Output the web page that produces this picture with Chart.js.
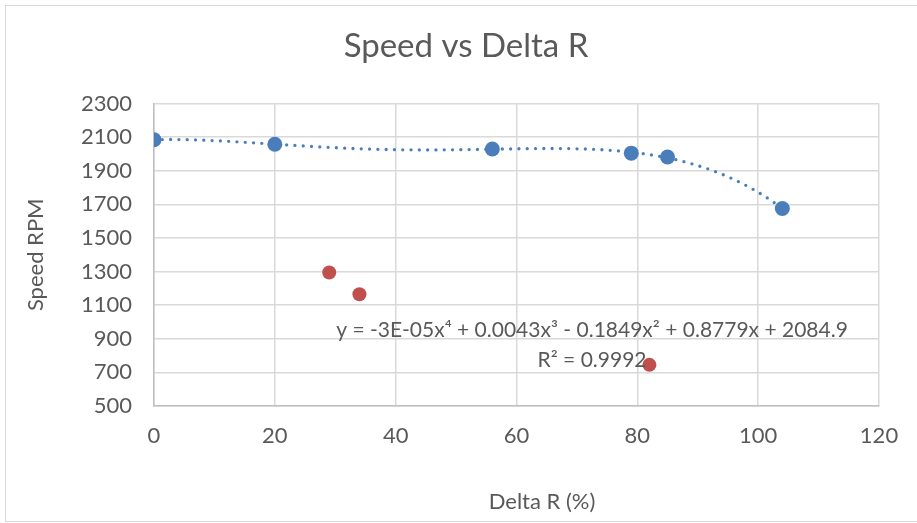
<!DOCTYPE html>
<html>
<head>
<meta charset="utf-8">
<script src="https://cdn.jsdelivr.net/npm/chart.js@4.4.1/dist/chart.umd.min.js"></script>
<style>
  html, body { margin: 0; padding: 0; background: #fff; }
  #wrap { width: 917px; height: 523px; position: relative; }
</style>
</head>
<body>
<div id="wrap"><canvas id="c" width="917" height="523"></canvas></div>
<script>
// Measured runs: speed against resistance change
const deltaR = [0, 20, 56, 79, 85, 104];
const speedRpm = [2085, 2058, 2030, 2005, 1982, 1676];

// Runs left out of the trend fit
const outlierDeltaR = [29, 34, 82];
const outlierRpm = [1295, 1165, 745];

const xTicks = [0, 20, 40, 60, 80, 100, 120];
const yTicks = [500, 700, 900, 1100, 1300, 1500, 1700, 1900, 2100, 2300];

const chartTitle = 'Speed vs Delta R';
const xTitle = 'Delta R (%)';
const yTitle = 'Speed RPM';
const trendEquation = 'y = -3E-05x\u2074 + 0.0043x\u00B3 - 0.1849x\u00B2 + 0.8779x + 2084.9';
const trendR2 = 'R\u00B2 = 0.9992';

const FONT = 'Lato, "Open Sans", "Liberation Sans", sans-serif';
const TEXT = '#595959';
const BLUE = '#4a7ebb';
const RED = '#c0504d';

// Least-squares polynomial (degree 4) through the measured runs
function polyFit(xs, ys, deg) {
  const s = 100; // scale x for conditioning
  const n = deg + 1;
  const A = Array.from({ length: n }, () => new Array(n + 1).fill(0));
  xs.forEach((xv, k) => {
    const t = xv / s;
    for (let i = 0; i < n; i++) {
      for (let j = 0; j < n; j++) A[i][j] += Math.pow(t, i + j);
      A[i][n] += ys[k] * Math.pow(t, i);
    }
  });
  for (let c = 0; c < n; c++) {
    let p = c;
    for (let r = c + 1; r < n; r++) if (Math.abs(A[r][c]) > Math.abs(A[p][c])) p = r;
    [A[c], A[p]] = [A[p], A[c]];
    for (let r = 0; r < n; r++) {
      if (r === c) continue;
      const f = A[r][c] / A[c][c];
      for (let k = c; k <= n; k++) A[r][k] -= f * A[c][k];
    }
  }
  const coef = A.map((row, i) => row[n] / row[i]);
  return xv => coef.reduce((acc, cf, i) => acc + cf * Math.pow(xv / s, i), 0);
}

const trend = polyFit(deltaR, speedRpm, 4);
const trendPoints = [];
for (let xv = deltaR[0]; xv <= deltaR[deltaR.length - 1] + 1e-9; xv += 0.5) {
  trendPoints.push({ x: xv, y: trend(xv) });
}

const chartDecor = {
  id: 'chartDecor',
  beforeDraw(chart) {
    const ctx = chart.ctx;
    ctx.save();
    ctx.fillStyle = '#ffffff';
    ctx.fillRect(0, 0, chart.width, chart.height);
    ctx.strokeStyle = '#d9d9d9';
    ctx.lineWidth = 1;
    ctx.strokeRect(5.5, 5.5, chart.width + 20, 516);
    ctx.restore();
  },
  afterDatasetsDraw(chart) {
    const ctx = chart.ctx;
    const xs = chart.scales.x, ys = chart.scales.y;
    const cx = xs.getPixelForValue(72.5);
    const cy = ys.getPixelForValue(950);
    ctx.save();
    ctx.fillStyle = TEXT;
    ctx.font = '21px ' + FONT;
    ctx.textAlign = 'center';
    ctx.textBaseline = 'middle';
    ctx.fillText(trendEquation, cx, cy);
    ctx.fillText(trendR2, cx, cy + 30);
    ctx.restore();
  },
  afterDraw(chart) {
    const ctx = chart.ctx;
    const a = chart.chartArea;
    ctx.save();
    ctx.fillStyle = TEXT;
    ctx.font = '22px ' + FONT;
    ctx.textAlign = 'center';
    ctx.textBaseline = 'middle';
    ctx.fillText(xTitle, a.left + 388, a.bottom + 96);
    ctx.translate(36, (a.top + a.bottom) / 2);
    ctx.rotate(-Math.PI / 2);
    ctx.fillText(yTitle, 0, 0);
    ctx.restore();
  }
};

function build() {
  new Chart(document.getElementById('c'), {
    type: 'scatter',
    data: {
      datasets: [
        {
          label: 'Poly. (Speed)',
          type: 'line',
          data: trendPoints,
          borderColor: BLUE,
          borderWidth: 3.3,
          borderDash: [0, 8.3],
          borderCapStyle: 'round',
          pointRadius: 0,
          fill: false,
          tension: 0,
          order: 2
        },
        {
          label: 'Speed',
          data: deltaR.map((xv, i) => ({ x: xv, y: speedRpm[i] })),
          backgroundColor: BLUE,
          borderColor: BLUE,
          borderWidth: 0,
          pointRadius: 7.5,
          order: 1
        },
        {
          label: 'Excluded',
          data: outlierDeltaR.map((xv, i) => ({ x: xv, y: outlierRpm[i] })),
          backgroundColor: RED,
          borderColor: RED,
          borderWidth: 0,
          pointRadius: 7,
          order: 0
        }
      ]
    },
    options: {
      responsive: false,
      animation: false,
      layout: { padding: { left: 53, right: 38, top: 0, bottom: 0 } },
      plugins: {
        legend: { display: false },
        tooltip: { enabled: false },
        title: {
          display: true,
          text: chartTitle,
          color: TEXT,
          font: { family: FONT, size: 33, weight: 'normal', lineHeight: 1.2 },
          padding: { top: 27, bottom: 37 }
        }
      },
      scales: {
        x: {
          type: 'linear',
          min: xTicks[0],
          max: xTicks[xTicks.length - 1],
          afterBuildTicks: s => { s.ticks = xTicks.map(v => ({ value: v })); },
          afterFit: s => { s.height = 117; },
          ticks: { color: TEXT, font: { family: FONT, size: 22 }, padding: 17, callback: v => String(v) },
          grid: { color: '#d9d9d9', lineWidth: 1.5, drawTicks: false },
          border: { color: '#bfbfbf', width: 1.5 }
        },
        y: {
          type: 'linear',
          min: yTicks[0],
          max: yTicks[yTicks.length - 1],
          afterBuildTicks: s => { s.ticks = yTicks.map(v => ({ value: v })); },
          afterFit: s => { s.width = 101; },
          ticks: { color: TEXT, font: { family: FONT, size: 22 }, padding: 22, callback: v => String(v) },
          grid: { color: '#d9d9d9', lineWidth: 1.5, drawTicks: false },
          border: { color: '#bfbfbf', width: 1.5 }
        }
      }
    },
    plugins: [chartDecor]
  });
}

if (document.fonts && document.fonts.load) {
  Promise.all([document.fonts.load('33px Lato'), document.fonts.load('22px Lato')]).then(build, build);
} else {
  build();
}
</script>
</body>
</html>
